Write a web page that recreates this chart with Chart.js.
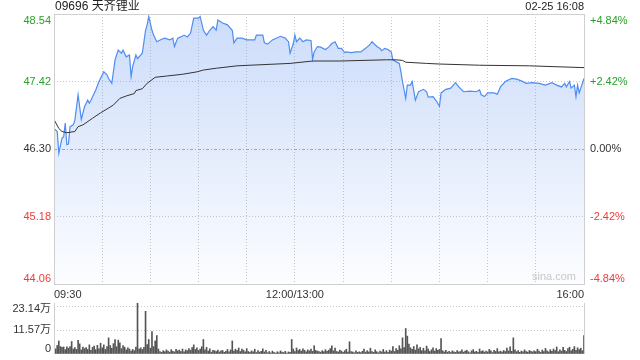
<!DOCTYPE html>
<html>
<head>
<meta charset="utf-8">
<script src="https://cdn.jsdelivr.net/npm/chart.js@4.4.1/dist/chart.umd.min.js"></script>
<style>
  body { margin: 0; background: #fff; }
  #wrap { position: relative; width: 640px; height: 360px; overflow: hidden; background: #fff; }
  #priceChart { position: absolute; left: 0; top: 0; }
  #volChart { position: absolute; left: 0; top: 296px; }
</style>
</head>
<body>
<div id="wrap">
  <canvas id="priceChart" width="640" height="300"></canvas>
  <canvas id="volChart" width="640" height="64"></canvas>
</div>
<script>
// 09696 天齐锂业, 02-25 分时
const stockName = "09696 天齐锂业";
const stamp = "02-25 16:08";
const prevClose = 46.30;

const priceTicks = [44.06, 45.18, 46.30, 47.42, 48.54];
const pctTicks = [-4.84, -2.42, 0, 2.42, 4.84];
const gridMinutes = [0, 30, 60, 90, 120, 150, 180, 210, 240, 270, 300, 330];
const labelMinutes = [0, 150, 330];
const timeLabels = ["09:30", "12:00/13:00", "16:00"];

// minutes since 09:30 (lunch break removed) and the price at that minute
const priceMin = [0,2,3,5,6,7,8,9,10,12,13,15,17,19,21,22,23,26,28,31,33,34,36,38,40,42,43,45,47,48,
  49,51,52,55,57,58,59,61,62,64,67,69,72,74,75,77,79,81,83,85,87,90,91,93,95,97,99,101,102,105,
  108,111,112,114,117,120,125,126,130,131,133,136,141,144,146,147,149,150,151,153,155,157,160,161,162,164,166,169,171,173,
  175,177,179,181,182,185,188,191,194,197,198,201,203,204,206,208,210,211,213,215,216,217,219,220,222,223,225,227,230,232,
  233,236,238,240,241,244,247,250,252,255,259,263,265,266,268,270,274,276,278,281,285,288,291,294,298,302,306,310,313,316,
  318,319,321,322,324,325,326,327,330];
const price = [46.64,46.59,46.23,46.48,46.50,46.73,46.37,46.38,46.67,46.70,46.78,47.20,46.79,47.00,47.11,47.06,47.11,47.28,47.42,47.58,
  47.53,47.47,47.39,47.78,47.94,47.89,47.94,47.83,47.86,47.50,47.67,47.86,47.80,47.89,48.27,48.36,48.50,48.27,48.19,48.08,
  48.12,48.14,48.11,48.14,48.00,48.14,48.16,48.19,48.16,48.22,48.47,48.47,48.50,48.27,48.19,48.27,48.33,48.27,48.44,48.39,
  48.36,48.27,48.06,48.14,48.14,48.11,48.11,48.19,48.19,48.06,48.04,48.11,48.17,48.14,48.08,47.89,48.05,48.19,48.08,48.14,
  48.08,48.11,48.10,47.79,47.91,48.00,47.99,47.95,47.99,48.05,48.08,47.97,47.97,47.90,47.91,47.90,47.91,47.91,47.97,48.04,
  48.08,48.00,47.97,47.93,47.97,47.95,47.91,47.78,47.75,47.72,47.58,47.42,47.14,47.36,47.36,47.42,47.11,47.25,47.29,47.25,
  47.16,47.17,47.10,47.01,47.23,47.29,47.31,47.40,47.33,47.25,47.26,47.25,47.28,47.20,47.17,47.23,47.23,47.21,47.33,47.42,
  47.47,47.46,47.43,47.39,47.40,47.39,47.36,47.40,47.36,47.33,47.39,47.33,47.42,47.31,47.36,47.17,47.36,47.23,47.47];

// average price line
const avgMin = [0,3,5,8,13,15,18,24,29,34,37,41,45,50,51,55,58,63,70,80,89,93,101,114,122,147,161,178,207,213,217,219,232,240,265,296,330];
const avgPrice = [46.79,46.64,46.59,46.57,46.59,46.67,46.70,46.81,46.90,46.98,47.03,47.14,47.18,47.22,47.27,47.30,47.39,47.49,47.51,47.54,
  47.58,47.61,47.64,47.68,47.69,47.72,47.76,47.76,47.78,47.78,47.77,47.74,47.72,47.71,47.69,47.68,47.65];

// volume per minute, 万股
const volume = [
  13.8,2.5,4.1,6.3,3.6,3.2,3.4,2.1,3.5,2.8, 3.6,6.0,2.4,3.1,2.2,6.6,4.9,2.0,3.3,2.6,
  3.1,2.2,4.4,1.8,3.2,3.8,2.1,4.2,2.5,5.2, 3.0,4.4,2.2,3.6,7.8,4.1,2.8,5.0,7.0,3.5,
  6.7,5.4,2.6,4.1,3.3,2.0,3.0,2.4,1.4,2.2, 1.6,3.3,24.5,2.4,3.0,2.2,3.2,20.6,4.5,7.0,
  2.8,10.8,3.6,6.3,8.9,2.4,1.2,0.8,1.6,1.1, 2.0,1.4,0.9,2.1,1.3,1.0,2.2,1.5,1.9,1.2,
  2.4,1.1,2.0,1.6,2.6,1.8,3.1,4.4,2.2,3.0, 1.7,2.4,3.5,7.0,2.0,3.2,1.4,2.5,0.9,1.8,
  1.6,1.2,1.9,1.0,1.5,1.7,0.8,1.3,2.2,1.1, 2.0,6.3,1.4,2.3,1.6,2.9,1.2,2.4,1.8,1.0,
  2.6,1.2,0.8,1.5,1.1,2.3,0.7,1.6,0.9,1.3, 2.5,1.0,1.8,0.6,1.2,0.5,1.4,0.8,0.4,1.1,
  0.6,1.5,0.9,0.7,1.3,0.5,1.0,0.8,7.0,2.4, 1.2,2.9,1.6,2.2,1.4,2.5,1.8,1.1,2.0,1.5,
  2.4,1.3,4.0,1.7,1.4,1.2,0.9,1.6,1.1,2.1, 1.3,1.8,2.6,4.0,1.5,2.8,1.2,1.0,1.9,1.4,
  0.8,1.6,2.3,0.9,5.9,1.2,1.0,0.6,1.5,0.8, 1.1,0.7,1.3,2.4,0.9,1.6,1.0,2.8,1.2,0.8,
  2.0,1.1,0.6,1.4,1.0,2.2,0.9,1.6,0.8,1.9, 1.4,3.6,1.2,2.6,1.8,4.0,2.5,7.8,3.1,12.3,
  8.6,4.8,3.0,2.2,3.6,1.9,4.4,2.5,3.2,1.6, 2.8,1.5,3.8,2.4,1.2,2.0,3.0,1.4,2.6,1.8,
  2.2,7.4,1.6,1.0,1.8,0.9,1.3,0.7,1.5,1.1, 0.8,1.6,1.0,1.2,2.0,0.9,1.4,1.8,1.1,0.6,
  1.5,2.1,1.0,1.3,0.8,2.4,1.2,1.6,0.9,1.4, 1.0,2.2,1.5,0.7,1.8,1.2,2.6,1.1,1.4,0.9,
  1.7,1.2,2.8,1.5,3.5,1.3,7.8,2.0,1.1,1.6, 0.8,1.4,1.0,2.0,1.2,0.9,1.7,1.3,1.0,1.5,
  1.1,2.3,1.4,0.8,1.9,1.2,2.7,1.5,1.0,2.1, 1.3,2.4,1.6,3.4,1.1,2.0,1.4,3.2,1.8,1.2,
  2.6,3.3,1.5,2.3,3.6,1.8,3.0,2.1,2.8,1.6, 8.9
];
const volTicks = [0, 11.57, 23.14];
const volTickLabels = ["0", "11.57万", "23.14万"];

const FONT = "'Liberation Sans', Arial, 'Noto Sans CJK SC', sans-serif";
const GREEN = "#2a9f2a", RED = "#ee3b3b", DARK = "#333";

function colorFor(v, base) {
    return v > base ? GREEN : (v < base ? RED : DARK);
}

// frame, side labels, title and watermark of the price panel
const priceDecor = {
    id: "priceDecor",
    afterDraw(chart) {
        const { ctx, chartArea: a, scales } = chart;
        const L = Math.round(a.left) + 0.5, R = Math.round(a.right) + 0.5;
        const T = Math.round(a.top) + 0.5, B = Math.round(a.bottom) + 0.5;
        ctx.save();
        ctx.setLineDash([]);
        ctx.strokeStyle = "#cfcfcf";
        ctx.lineWidth = 1;
        ctx.strokeRect(L, T, R - L, B - T);

        ctx.font = "11px " + FONT;
        const last = priceTicks.length - 1;
        priceTicks.forEach((v, i) => {
            const y = scales.y.getPixelForValue(v);
            ctx.textBaseline = i === last ? "top" : (i === 0 ? "bottom" : "middle");
            ctx.fillStyle = colorFor(v, prevClose);
            ctx.textAlign = "right";
            ctx.fillText(v.toFixed(2), a.left - 3, y + (i === last ? 1 : 0));
        });
        pctTicks.forEach((v, i) => {
            const y = scales.y2.getPixelForValue(v);
            ctx.textBaseline = i === last ? "top" : (i === 0 ? "bottom" : "middle");
            ctx.fillStyle = colorFor(v, 0);
            ctx.textAlign = "left";
            const txt = (v > 0 ? "+" : "") + v.toFixed(2) + "%";
            ctx.fillText(txt, a.right + 6, y + (i === last ? 1 : 0));
        });

        ctx.fillStyle = "#222";
        ctx.textBaseline = "middle";
        ctx.textAlign = "left";
        ctx.font = "12px " + FONT;
        ctx.fillText(stockName, a.left + 1, 7);
        ctx.textAlign = "right";
        ctx.font = "11px " + FONT;
        ctx.fillText(stamp, a.right, 7);

        ctx.fillStyle = "#c8c8c8";
        ctx.fillText("sina.com", a.right - 8, a.bottom - 7);
        ctx.restore();
    }
};

const volDecor = {
    id: "volDecor",
    afterDraw(chart) {
        const { ctx, chartArea: a, scales } = chart;
        const L = Math.round(a.left) + 0.5, R = Math.round(a.right) + 0.5;
        ctx.save();
        ctx.setLineDash([]);
        ctx.strokeStyle = "#cfcfcf";
        ctx.lineWidth = 1;
        ctx.beginPath();
        ctx.moveTo(L, a.top); ctx.lineTo(L, a.bottom);
        ctx.moveTo(R, a.top); ctx.lineTo(R, a.bottom);
        ctx.stroke();

        ctx.font = "11px " + FONT;
        ctx.fillStyle = DARK;
        ctx.textAlign = "right";
        volTicks.forEach((v, i) => {
            const y = scales.y.getPixelForValue(v);
            ctx.textBaseline = i === 0 ? "bottom" : "middle";
            ctx.fillText(volTickLabels[i], a.left - 3, y + (i === volTicks.length - 1 ? 3 : 0));
        });
        ctx.restore();
    }
};

function areaFill(c) {
    const chart = c.chart;
    const a = chart.chartArea;
    if (!a) return "rgba(120,160,240,0.2)";
    const g = chart.ctx.createLinearGradient(0, a.top, 0, a.bottom);
    g.addColorStop(0, "rgba(95,145,240,0.32)");
    g.addColorStop(1, "rgba(95,145,240,0.02)");
    return g;
}

new Chart(document.getElementById("priceChart"), {
    type: "line",
    data: {
        datasets: [
            {
                label: "均价",
                data: avgMin.map((m, i) => ({ x: m, y: avgPrice[i] })),
                borderColor: "#333",
                borderWidth: 1,
                pointRadius: 0,
                fill: false,
                order: 0
            },
            {
                label: "价格",
                data: priceMin.map((m, i) => ({ x: m, y: price[i] })),
                borderColor: "#4f8df0",
                borderWidth: 1.2,
                pointRadius: 0,
                fill: "start",
                backgroundColor: areaFill,
                order: 1
            }
        ]
    },
    options: {
        responsive: false,
        animation: false,
        events: [],
        layout: { padding: { top: 14, left: 0, right: 0, bottom: 0 } },
        plugins: { legend: { display: false }, tooltip: { enabled: false } },
        scales: {
            x: {
                type: "linear",
                min: 0,
                max: 330,
                afterBuildTicks: s => { s.ticks = gridMinutes.map(v => ({ value: v })); },
                afterFit: s => { s.height = 16; },
                ticks: {
                    autoSkip: false,
                    maxRotation: 0,
                    align: "inner",
                    padding: 4,
                    color: DARK,
                    font: { family: FONT, size: 11 },
                    callback: v => {
                        const k = labelMinutes.indexOf(v);
                        return k >= 0 ? timeLabels[k] : "";
                    }
                },
                grid: { color: "#c8c8c8", drawTicks: false },
                border: { display: false, dash: [1, 2] }
            },
            y: {
                position: "left",
                min: priceTicks[0],
                max: priceTicks[priceTicks.length - 1],
                afterBuildTicks: s => { s.ticks = priceTicks.map(v => ({ value: v })); },
                afterFit: s => { s.width = 54; },
                ticks: { display: false },
                grid: {
                    drawTicks: false,
                    color: c => (c.tick && c.tick.value === prevClose) ? "#a8a8a8" : "#c8c8c8"
                },
                border: {
                    display: false,
                    dash: c => (c.tick && c.tick.value === prevClose) ? [3, 2, 1, 2] : [1, 2]
                }
            },
            y2: {
                position: "right",
                min: pctTicks[0],
                max: pctTicks[pctTicks.length - 1],
                afterBuildTicks: s => { s.ticks = pctTicks.map(v => ({ value: v })); },
                afterFit: s => { s.width = 56; },
                ticks: { display: false },
                grid: { drawOnChartArea: false, drawTicks: false },
                border: { display: false }
            }
        }
    },
    plugins: [priceDecor]
});

new Chart(document.getElementById("volChart"), {
    type: "bar",
    data: {
        datasets: [{
            label: "成交量",
            data: volume.map((v, i) => ({ x: i, y: v })),
            backgroundColor: "#555",
            barThickness: 1
        }]
    },
    options: {
        responsive: false,
        animation: false,
        events: [],
        layout: { padding: { top: 7, bottom: 6, left: 0, right: 56 } },
        plugins: { legend: { display: false }, tooltip: { enabled: false } },
        scales: {
            x: { type: "linear", min: 0, max: 330, offset: false, display: false },
            y: {
                min: 0,
                max: 24.6,
                afterBuildTicks: s => { s.ticks = volTicks.map(v => ({ value: v })); },
                afterFit: s => { s.width = 54; },
                ticks: { display: false },
                grid: {
                    drawTicks: false,
                    color: c => (c.tick && c.tick.value > 0) ? "#c8c8c8" : "rgba(0,0,0,0)"
                },
                border: { display: false, dash: [1, 2] }
            }
        }
    },
    plugins: [volDecor]
});
</script>
</body>
</html>
